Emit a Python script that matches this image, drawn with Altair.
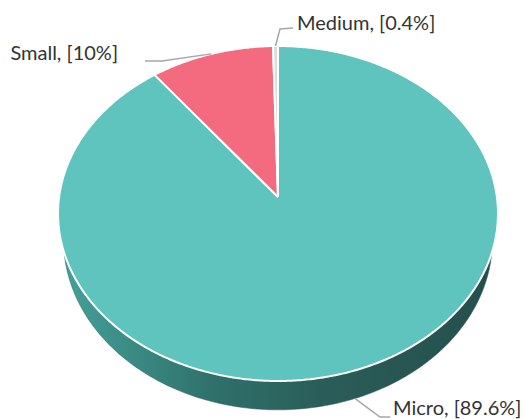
import numpy as np
import pandas as pd
import altair as alt

# ---- data ----
categories = ["Medium", "Small", "Micro"]
shares = [0.4, 10.0, 89.6]
colors = ["#dcdcdc", "#f46a7e", "#5ec4bd"]
label_texts = ["Medium, [0.4%]", "Small, [10%]", "Micro, [89.6%]"]

# ---- geometry of the tilted (perspective) pie ----
CX = 278.0
K = 218.9
A = -146.47
B = 197.0
C = 0.0985
DEPTH = 26.0
SHRINK = 0.975


def proj(phi_deg, drop=0.0, shrink=1.0):
    p = np.radians(phi_deg)
    X = -np.sin(p)
    Z = np.cos(p)
    den = 1 + C * Z
    x = CX + shrink * K * X / den
    y = (A * Z + B) / den + drop / den
    return x, y


# slices (angles measured counter-clockwise from the top)
total = sum(shares)
starts = np.cumsum([0] + shares[:-1]) / total * 360
ends = np.cumsum(shares) / total * 360
vx, vy = CX, B

slice_rows = []
for cat, s, e in zip(categories, starts, ends):
    n = max(2, int(np.ceil((e - s) / 0.5)) + 1)
    phis = np.linspace(s, e, n)
    xs_, ys_ = proj(phis)
    pts = [(vx, vy)] + list(zip(xs_, ys_)) + [(vx, vy)]
    for i, (x, y) in enumerate(pts):
        slice_rows.append({"cat": cat, "i": i, "x": x, "y": y})
slices_df = pd.DataFrame(slice_rows)

# side band (front half of the rim, dropped)
phis = np.linspace(80, 280, 201)
tx, ty = proj(phis)
bx, by = proj(phis[::-1], drop=DEPTH, shrink=SHRINK)
side_df = pd.DataFrame({
    "x": np.concatenate([tx, bx]),
    "y": np.concatenate([ty, by]),
    "i": np.arange(len(tx) + len(bx)),
})

# leader lines: start at the slice mid-angle on the rim
mids = (starts + ends) / 2
elbows = {"Medium": (280, 29), "Small": (162, 61), "Micro": (380, 417)}
line_ends = {"Medium": (293, 28), "Small": (145, 61), "Micro": (390, 417)}
text_pos = {"Medium": (297, 24, "left"), "Small": (118, 54, "right"), "Micro": (393, 409, "left")}
lead_rows = []
text_rows = []
for cat, m, lab in zip(categories, mids, label_texts):
    drop = DEPTH if cat == "Micro" else 0.0
    ax, ay = proj(m, drop=drop)
    pts = [(float(ax), float(ay)), elbows[cat], line_ends[cat]]
    for i, (x, y) in enumerate(pts):
        lead_rows.append({"cat": cat, "i": i, "x": x, "y": y})
    tx_, ty_, al = text_pos[cat]
    text_rows.append({"cat": cat, "label": lab, "x": tx_, "y": ty_, "align": al})
lead_df = pd.DataFrame(lead_rows)
text_df = pd.DataFrame(text_rows)

xs = alt.Scale(domain=[0, 524], nice=False, zero=False)
ys = alt.Scale(domain=[0, 419], nice=False, zero=False, reverse=True)
X = alt.X("x:Q", scale=xs, axis=None)
Y = alt.Y("y:Q", scale=ys, axis=None)

side = alt.Chart(side_df).mark_line(
    fill=alt.Gradient(
        gradient="linear", x1=0, x2=1, y1=0, y2=0,
        stops=[
            alt.GradientStop(color="#45a39b", offset=0),
            alt.GradientStop(color="#2f716b", offset=0.35),
            alt.GradientStop(color="#2a5d59", offset=0.6),
            alt.GradientStop(color="#254e4b", offset=1),
        ],
    ),
    stroke="#2a5d59", strokeWidth=0.5,
).encode(x=X, y=Y, order="i:Q")

layers = [side]
for cat, col in zip(["Micro", "Small", "Medium"], ["#5ec4bd", "#f46a7e", "#dcdcdc"]):
    layers.append(
        alt.Chart(slices_df).transform_filter(alt.datum.cat == cat).mark_line(
            fill=col, stroke="white", strokeWidth=2, strokeJoin="round"
        ).encode(x=X, y=Y, order="i:Q")
    )

leaders = alt.Chart(lead_df).mark_line(color="#a6a6a6", strokeWidth=1.5).encode(
    x=X, y=Y, order="i:Q", detail="cat:N"
)
layers.append(leaders)

for al in ["left", "right"]:
    layers.append(
        alt.Chart(text_df).transform_filter(alt.datum.align == al).mark_text(
            align=al, baseline="middle", font="Lato", fontSize=20, color="#333333"
        ).encode(x=X, y=Y, text="label:N")
    )

chart = alt.layer(*layers).properties(
    width=524, height=419, padding=0, autosize="none"
).configure_view(stroke=None)

chart.save("out.html", embed_options={"renderer": "svg", "actions": False})
